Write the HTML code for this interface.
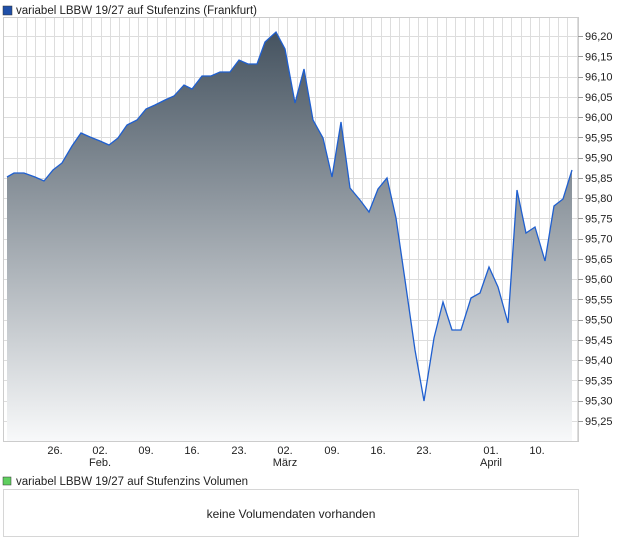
<!DOCTYPE html>
<html><head><meta charset="utf-8"><style>
body{margin:0;background:#fff;font-family:"Liberation Sans",sans-serif;}
</style></head><body>
<svg width="620" height="546" xmlns="http://www.w3.org/2000/svg" font-family="Liberation Sans, sans-serif">
<defs>
<linearGradient id="g" x1="0" y1="0" x2="0" y2="1" gradientUnits="userSpaceOnUse" x1f="0">
</linearGradient>
<linearGradient id="f" gradientUnits="userSpaceOnUse" x1="0" y1="30" x2="0" y2="441">
<stop offset="0" stop-color="#44525f"/><stop offset="1" stop-color="#f8f9fa"/>
</linearGradient>
</defs>
<rect x="3" y="6" width="9" height="9" fill="#1f4fa8" stroke="#333" stroke-width="0.5"/>
<text x="16" y="14" font-size="11.5" fill="#222">variabel LBBW 19/27 auf Stufenzins (Frankfurt)</text>
<g stroke="#dddddd" stroke-width="1" id="grid"></g>
<path id="area" fill="url(#f)"/>
<polyline id="line" fill="none" stroke="#1f5fcf" stroke-width="1.3"/>
<rect x="3.5" y="17.5" width="575" height="424" fill="none" stroke="#cccccc"/>
<g id="labels" font-size="11" fill="#222"></g>
<rect x="3" y="477" width="8" height="8" fill="#5fcf5f" stroke="#333" stroke-width="0.5"/>
<text x="16" y="485" font-size="11.5" fill="#222">variabel LBBW 19/27 auf Stufenzins Volumen</text>
<rect x="3.5" y="489.5" width="575" height="47" fill="#fff" stroke="#d6d6d6"/>
<text x="291" y="518" font-size="12" fill="#222" text-anchor="middle">keine Volumendaten vorhanden</text>
</svg>
<script>
var ns="http://www.w3.org/2000/svg";
var g=document.getElementById('grid'),L=document.getElementById('labels');
function el(p,t,a){var e=document.createElementNS(ns,t);for(var k in a)e.setAttribute(k,a[k]);p.appendChild(e);return e;}
for(var x=16.7;x<578;x+=9.33)el(g,'line',{x1:Math.round(x)+.5,y1:18,x2:Math.round(x)+.5,y2:441});
for(var i=0;i<21;i++){var y=36+i*20.26;if(y>441)break;var yy=Math.round(y)+.5;
el(g,'line',{x1:4,y1:yy,x2:578,y2:yy});
el(L,'line',{x1:578,y1:yy,x2:583,y2:yy,stroke:'#999'});
var v=(96.20-i*0.05).toFixed(2).replace('.',',');
if(v>='95,25'||i<=19){var t=el(L,'text',{x:585,y:y+4});t.textContent=v;}}
var pts=[[7,177],[14,173],[24,173],[35,177],[44,181],[53,170],[62,163],[72,146],[81,133],[90,137],[100,141],[109,145],[118,138],[127,125],[137,120],[146,109],[155,105],[165,100],[174,96],[184,85],[192,89],[202,76],[211,76],[220,72],[230,72],[239,60],[248,64],[257,64],[265,42],[276,32],[285,49],[295,103],[304,69],[313,120],[323,138],[332,177],[341,122],[350,188],[360,200],[369,212],[378,189],[387,178],[396,218],[405,280],[415,350],[424,401],[434,338],[443,302],[452,330],[461,330],[471,298],[480,293],[489,267],[498,287],[508,323],[517,190],[526,233],[535,227],[545,261],[554,206],[563,199],[572,170]];
var s=pts.map(function(p){return p.join(',')}).join(' ');
document.getElementById('line').setAttribute('points',s);
document.getElementById('area').setAttribute('d','M7,441 L'+s.replace(/ /g,' L')+' L572,441 Z');
var xl=[[55,'26.'],[100,'02.'],[146,'09.'],[192,'16.'],[239,'23.'],[285,'02.'],[332,'09.'],[378,'16.'],[424,'23.'],[491,'01.'],[537,'10.']];
xl.forEach(function(a){var t=el(L,'text',{x:a[0],y:454,'text-anchor':'middle'});t.textContent=a[1];});
[[100,'Feb.'],[285,'März'],[491,'April']].forEach(function(a){var t=el(L,'text',{x:a[0],y:466,'text-anchor':'middle'});t.textContent=a[1];});
</script>
</body></html>
